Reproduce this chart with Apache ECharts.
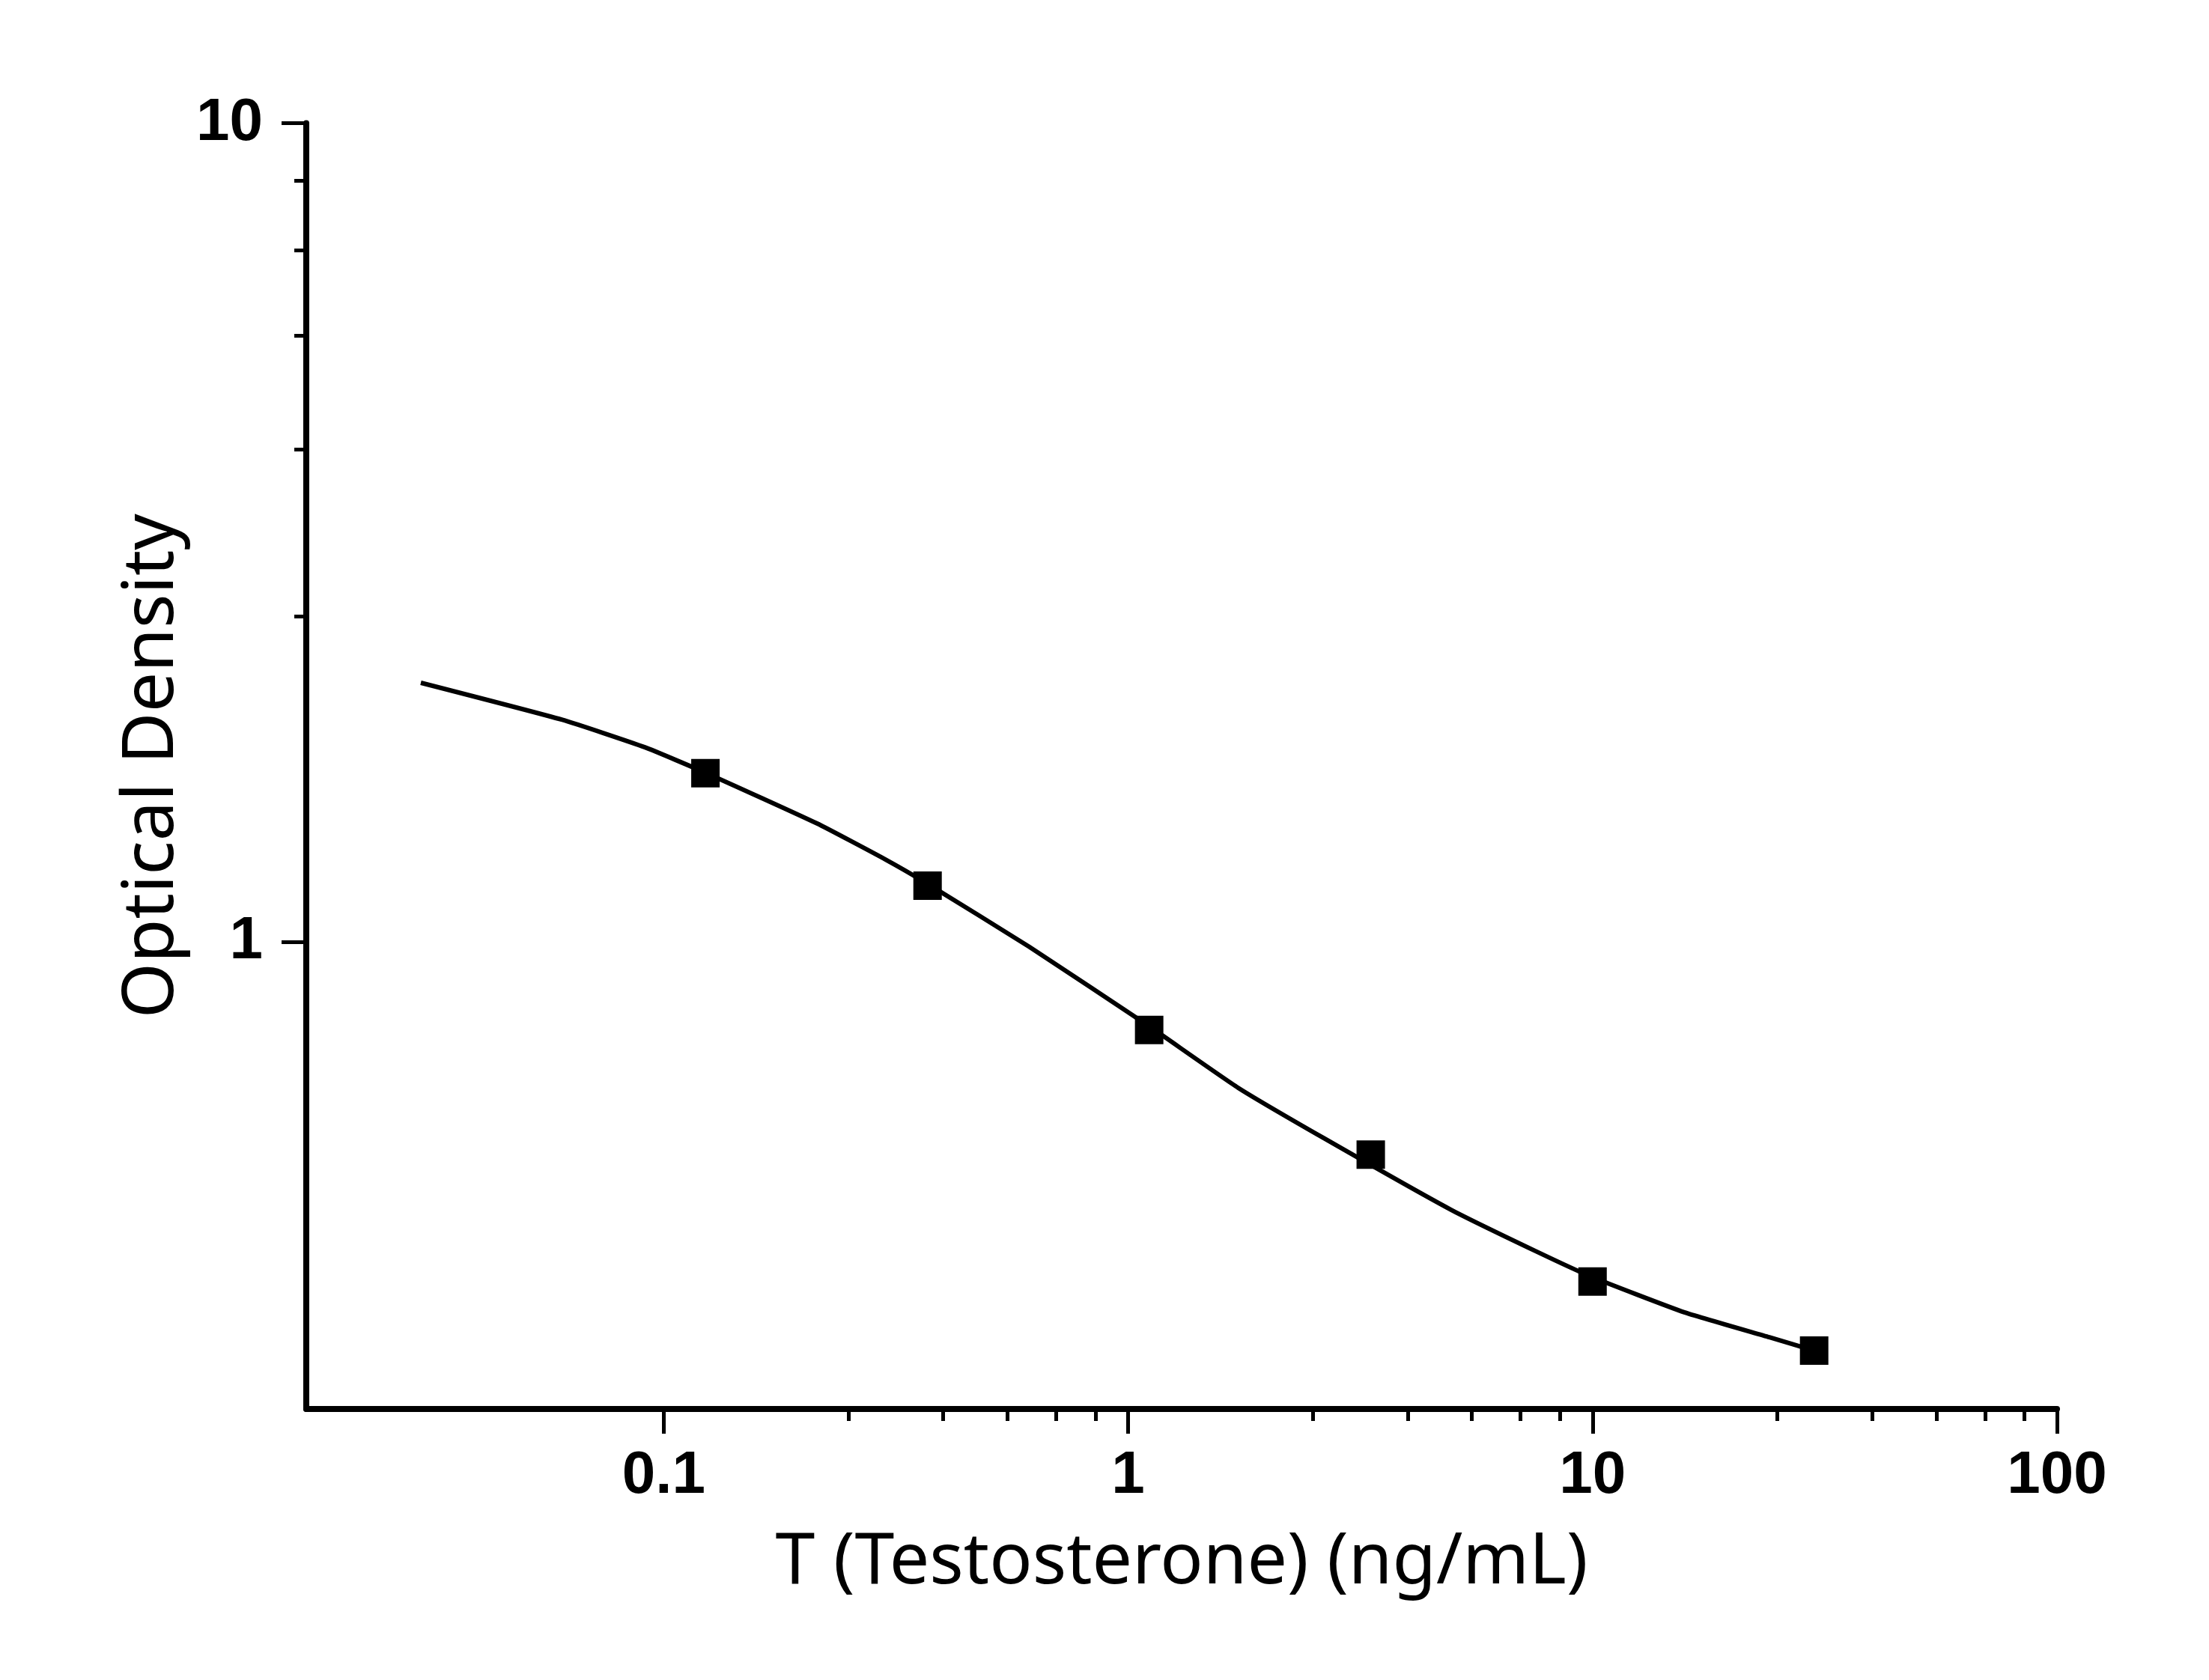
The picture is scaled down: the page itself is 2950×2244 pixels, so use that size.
<!DOCTYPE html>
<html>
<head>
	<title>T standard curve</title>
	<meta http-equiv="Content-Type" content="text/html; charset=utf-8" />
	<script src="https://cdn.jsdelivr.net/npm/echarts@6.0.0/dist/echarts.min.js"></script>
	<style>
		html, body { margin: 0; padding: 0; background: #fff; }
		#chart { width: 2950px; height: 2244px; }
	</style>
</head>
<body>
	<div id="chart"></div>
</body>
<script type="text/javascript">
	// standards (ng/mL) and measured OD
	var standardX = [0.123, 0.37, 1.11, 3.33, 10, 30];
	var standardY = [1.608, 1.172, 0.781, 0.550, 0.385, 0.317];

	// fitted curve
	var curveX = [0.030, 0.0605, 0.0911, 0.1236, 0.2137, 0.3004, 0.3707, 0.612, 1.11, 1.725, 2.629, 4.947, 7.54, 10, 15.76, 24.02, 30];
	var curveY = [2.073, 1.868, 1.729, 1.608, 1.396, 1.261, 1.177, 0.987, 0.789, 0.6638, 0.5768, 0.4713, 0.4193, 0.3896, 0.353, 0.3291, 0.317];

	// axis ticks
	var xMajor = [0.1, 1, 10, 100];
	var xMinor = [0.25, 0.4, 0.55, 0.7, 0.85, 2.5, 4, 5.5, 7, 8.5, 25, 40, 55, 70, 85];
	var yMajor = [1, 10];
	var yMinor = [2.5, 4, 5.5, 7, 8.5];

	var xRange = [0.017, 100];
	var yRange = [0.269, 10];

	function pairs(xs, ys) {
		return xs.map(function(x, i) { return [x, ys[i]]; });
	}

	var labelFont = {
		color: '#000',
		fontFamily: 'Liberation Sans',
		fontWeight: 'bold',
		fontSize: 80
	};
	var nameFont = {
		color: '#000',
		fontFamily: 'Noto Sans',
		fontSize: 95
	};

	var myChart = echarts.init(document.getElementById('chart'));
	var option = {
		backgroundColor: '#fff',
		animation: false,
		grid: {
			left: 409,
			top: 164.5,
			right: 203,
			bottom: 362,
			containLabel: false,
			outerBoundsMode: 'none'
		},
		xAxis: [{
			type: 'log',
			min: xRange[0],
			max: xRange[1],
			position: 'bottom',
			name: 'T (Testosterone) (ng/mL)',
			nameLocation: 'middle',
			nameGap: 158,
			nameTextStyle: nameFont,
			axisLine: { show: true, lineStyle: { color: '#000', width: 8 } },
			axisTick: { show: true, length: 33, customValues: xMajor, lineStyle: { color: '#000', width: 5 } },
			axisLabel: Object.assign({ show: true, margin: 50, customValues: xMajor }, labelFont),
			splitLine: { show: false }
		}, {
			type: 'log',
			min: xRange[0],
			max: xRange[1],
			position: 'bottom',
			axisLine: { show: false },
			axisTick: { show: true, length: 16, customValues: xMinor, lineStyle: { color: '#000', width: 5 } },
			axisLabel: { show: false },
			splitLine: { show: false }
		}],
		yAxis: [{
			type: 'log',
			min: yRange[0],
			max: yRange[1],
			position: 'left',
			name: 'Optical Density',
			nameLocation: 'middle',
			nameGap: 158,
			nameTextStyle: nameFont,
			axisLine: { show: true, lineStyle: { color: '#000', width: 8 } },
			axisTick: { show: true, length: 33, customValues: yMajor, lineStyle: { color: '#000', width: 5 } },
			axisLabel: Object.assign({ show: true, margin: 58, customValues: yMajor, padding: [0, 0, 18, 0] }, labelFont),
			splitLine: { show: false }
		}, {
			type: 'log',
			min: yRange[0],
			max: yRange[1],
			position: 'left',
			axisLine: { show: false },
			axisTick: { show: true, length: 16, customValues: yMinor, lineStyle: { color: '#000', width: 5 } },
			axisLabel: { show: false },
			splitLine: { show: false }
		}],
		series: [{
			type: 'line',
			data: pairs(curveX, curveY),
			showSymbol: false,
			smooth: 0.15,
			lineStyle: { color: '#000', width: 6 },
			z: 2
		}, {
			type: 'scatter',
			data: pairs(standardX, standardY),
			symbol: 'rect',
			symbolSize: 38,
			itemStyle: { color: '#000', opacity: 1 },
			z: 3
		}]
	};
	myChart.setOption(option);
</script>
</html>
